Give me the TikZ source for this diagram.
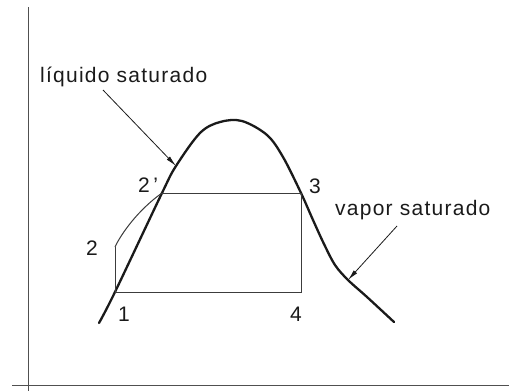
\documentclass[tikz,border=0pt]{standalone}
\usepackage{fontspec}
\setmainfont{Liberation Sans}[LetterSpace=6]
\usetikzlibrary{arrows.meta}
\definecolor{ink}{HTML}{1A1A1A}
\definecolor{axisgray}{HTML}{505050}

\begin{document}
\begin{tikzpicture}[
  x=1pt,y=-1pt,
  lbl/.style={font=\fontsize{21}{25}\selectfont,inner sep=0pt,anchor=base west,color=ink},
  dome/.style={line width=2.3pt,color=ink,line join=round,line cap=round},
  cyc/.style={line width=1pt,color=ink!85},
  axis/.style={line width=1pt,color=axisgray},
  arr/.style={-{Latex[length=11pt,width=4.5pt]},line width=0.8pt,color=ink}
]
\useasboundingbox (0,0) rectangle (509,391);
\draw[axis] (28,7) -- (28,391);
\draw[axis] (12,385) -- (509,385);
\coordinate (p1) at (115,292);
\coordinate (p2) at (115,247);
\coordinate (p2s) at (162,193);
\coordinate (p3) at (301,193);
\coordinate (p4) at (301,292);
\coordinate (liqpt) at (176,166);
\coordinate (vappt) at (348,280);
\draw[dome] plot[smooth,tension=0.55] coordinates {(99,323) (p1) (p2s) (liqpt) (200,133) (220,122) (242,121) (267,135) (283,157) (p3) (313,220) (324,244) (335,265) (vappt) (367,297) (394,322)};
\draw[cyc] (p2) -- (p1) -- (p4) -- (p3) -- (p2s);
\draw[cyc] (p2) .. controls (121,234) and (138,210) .. (p2s);
\node[lbl] (liq) at (40,82) {líquido saturado};
\node[lbl] (vap) at (335,215) {vapor saturado};
\coordinate (liqtail) at (103,90);
\coordinate (vaptail) at (397,226);
\draw[arr] (liqtail) -- (liqpt);
\draw[arr] (vaptail) -- (vappt);
\node[lbl] (n1) at (118,321) {1};
\node[lbl] (n2) at (86,255) {2};
\node[lbl] (n2s) at (138,192) {2\,’};
\node[lbl] (n3) at (309,193) {3};
\node[lbl] (n4) at (290,321) {4};
\end{tikzpicture}
\end{document}
